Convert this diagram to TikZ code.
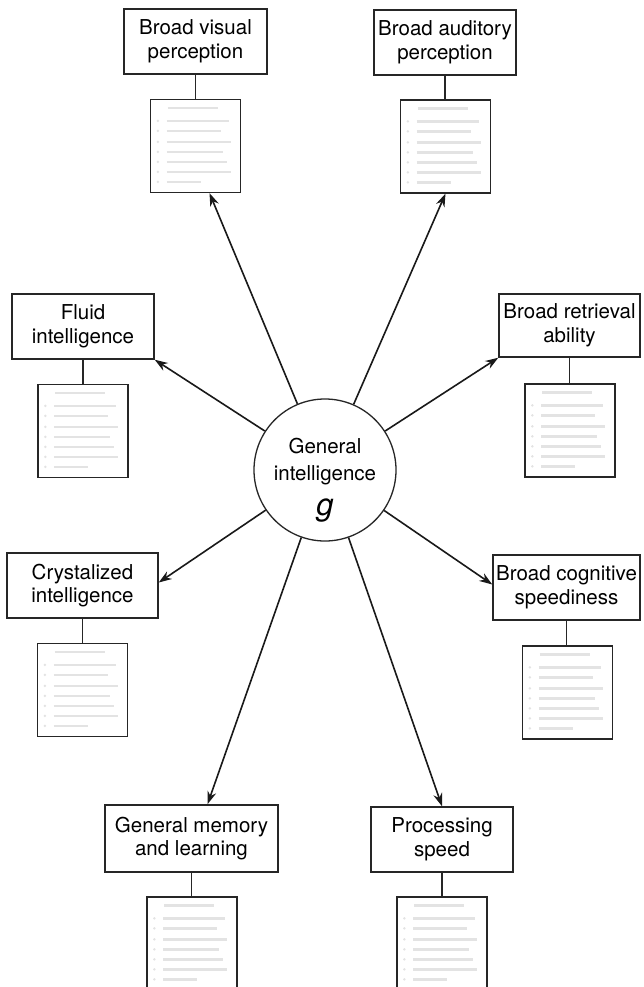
\documentclass[tikz,border=0pt]{standalone}
\usepackage{fontspec}
\setmainfont{TeX Gyre Heros}
\usetikzlibrary{arrows.meta,calc}
\begin{document}
\begin{tikzpicture}[x=1pt,y=-1pt,
  cat/.style={draw=black!85, line width=1.5pt, align=center, inner sep=2pt,
    font=\fontsize{20.5}{23.5}\selectfont},
  sub/.style={draw=black!85, line width=1.3pt, minimum width=90pt, minimum height=93pt, inner sep=0pt},
  conn/.style={draw=black!85, line width=1.5pt},
  arr/.style={draw=black!90, line width=1.6pt, -{Stealth[length=13pt,width=9pt]}},
  faint/.style={draw=black!11, line width=2.4pt},
  gcirc/.style={circle, draw=black!85, line width=1.3pt, minimum size=142pt, inner sep=0pt},
  gtext/.style={anchor=base, inner sep=0pt, font=\fontsize{20.5}{24}\selectfont}]
\useasboundingbox (0,0) rectangle (644,987);
\clip (0,0) rectangle (644,987);
\fill[white] (0,0) rectangle (644,987);

\newcommand\fakelist[1]{%
  \draw[faint] ($(#1.north west)+(18,9)$) -- ++(50,0);
  \foreach \yy/\ll in {22/62,32/54,43/64,53/56,63/60,73/64,83/34} {%
    \draw[faint] ($(#1.north west)+(17,\yy)$) -- ++(\ll,0);
    \fill[black!11] ($(#1.north west)+(8,\yy)$) circle (1.3);
  }%
}

% central node
\node[gcirc] (g) at (325,470) {};
\node[gtext] (g1) at (325,453) {General};
\node[gtext] (g2) at (325,480) {intelligence};
\node[gtext, font=\fontsize{31}{31}\selectfont\itshape] (g3) at (325,515) {g};

% category boxes
\node[cat, minimum width=143pt, minimum height=65pt] (vis) at (195.5,41.5) {Broad visual\\perception};
\node[cat, minimum width=142pt, minimum height=65pt] (aud) at (445,42.5) {Broad auditory\\perception};
\node[cat, minimum width=142pt, minimum height=65pt] (flu) at (83,326.5) {Fluid\\intelligence};
\node[cat, minimum width=141pt, minimum height=63pt] (ret) at (569.5,325.5) {Broad retrieval\\ability};
\node[cat, minimum width=151pt, minimum height=65pt] (cry) at (82.5,585.5) {Crystalized\\intelligence};
\node[cat, minimum width=147pt, minimum height=65pt] (cog) at (566.5,587.5) {Broad cognitive\\speediness};
\node[cat, minimum width=173pt, minimum height=67pt] (mem) at (191.5,838.5) {General memory\\and learning};
\node[cat, minimum width=142pt, minimum height=65pt] (pro) at (442,839.5) {Processing\\speed};

% detail boxes
\node[sub] (visd) at (195.5,146) {};
\node[sub] (audd) at (445.5,146.5) {};
\node[sub] (flud) at (83,431) {};
\node[sub] (retd) at (570,430.5) {};
\node[sub] (cryd) at (82.5,690) {};
\node[sub] (cogd) at (567.5,692.5) {};
\node[sub] (memd) at (192,943.5) {};
\node[sub] (prod) at (442,943.5) {};

\fakelist{visd}
\fakelist{audd}
\fakelist{flud}
\fakelist{retd}
\fakelist{cryd}
\fakelist{cogd}
\fakelist{memd}
\fakelist{prod}

% connectors box -> detail
\draw[conn] (vis.south) -- (vis.south |- visd.north);
\draw[conn] (aud.south) -- (aud.south |- audd.north);
\draw[conn] (flu.south) -- (flu.south |- flud.north);
\draw[conn] (ret.south) -- (ret.south |- retd.north);
\draw[conn] (cry.south) -- (cry.south |- cryd.north);
\draw[conn] (cog.south) -- (cog.south |- cogd.north);
\draw[conn] (mem.south) -- (mem.south |- memd.north);
\draw[conn] (pro.south) -- (pro.south |- prod.north);

% arrows from g
\draw[arr] (g) -- ([xshift=14pt]visd.south);
\draw[arr] (g) -- (audd.south);
\draw[arr] (g) -- (flu.south east);
\draw[arr] (g) -- (ret.south west);
\draw[arr] (g) -- ([yshift=3pt]cry.east);
\draw[arr] (g) -- ([yshift=3pt]cog.west);
\draw[arr] (g) -- ([xshift=16pt]mem.north);
\draw[arr] (g) -- (pro.north);
\end{tikzpicture}
\end{document}
